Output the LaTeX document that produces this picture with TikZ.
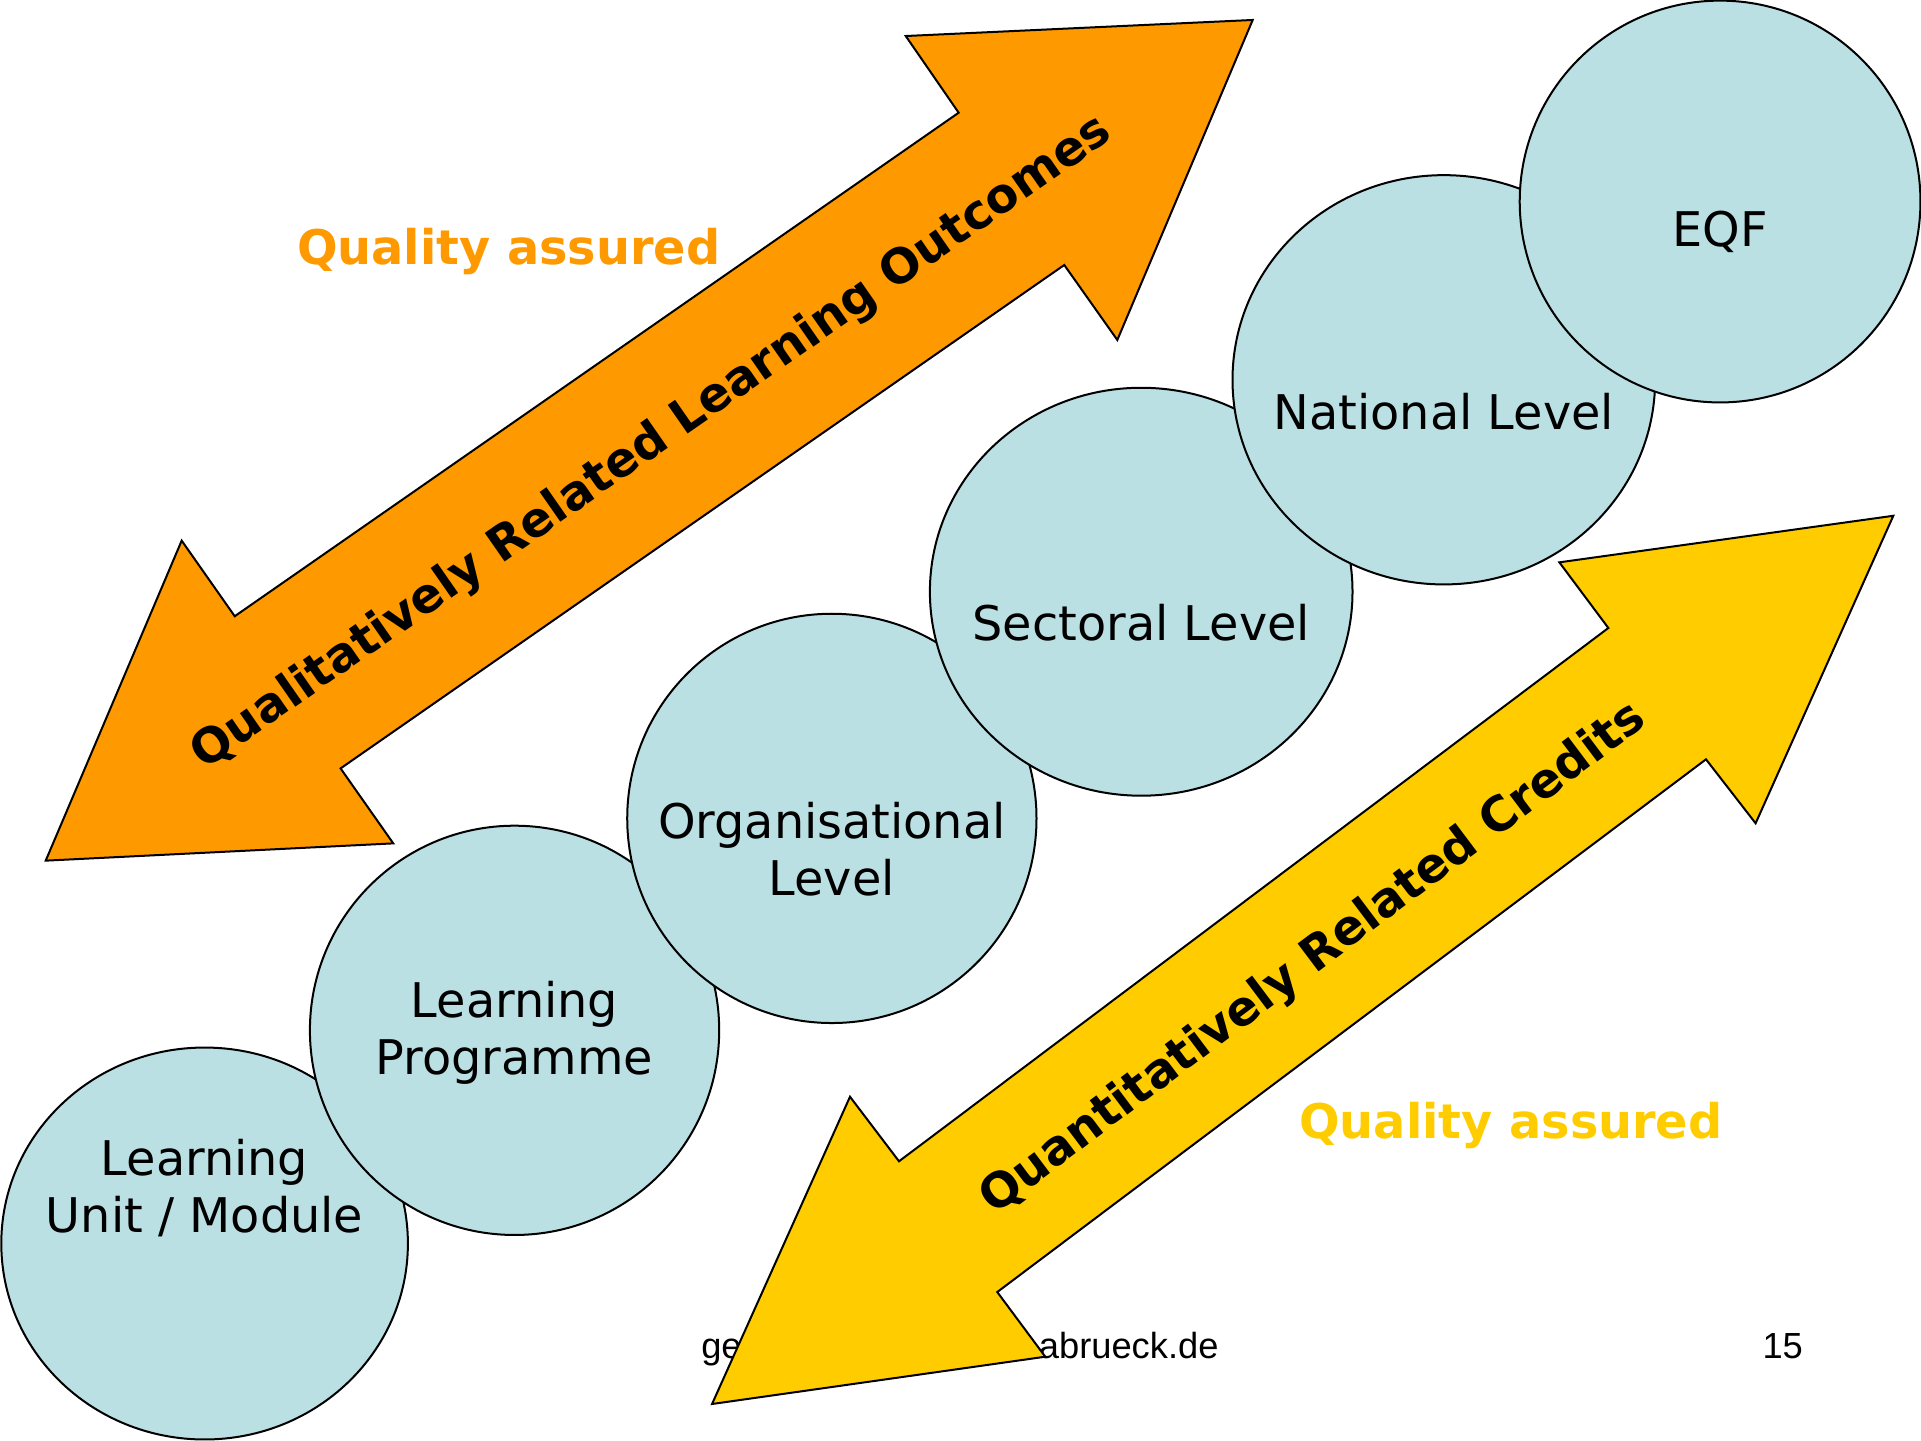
\documentclass[tikz,border=0pt]{standalone}
\usepackage{fontspec}
\setmainfont{DejaVu Sans}
\newfontfamily\footfont{Liberation Sans}
\usepackage{tikz}
\usetikzlibrary{shapes.geometric}
\definecolor{qorange}{HTML}{FF9900}
\definecolor{qyellow}{HTML}{FFCC00}
\definecolor{lvlblue}{HTML}{BBE0E3}
\newcommand\lvlfont{\fontsize{17.9}{21.4}\selectfont}
\newcommand\bandfont{\fontsize{17.9}{21.4}\selectfont\bfseries}
\tikzstyle{disc}=[ellipse,draw=black,line width=.75pt,fill=lvlblue,inner sep=0pt]
\tikzstyle{lvl}=[align=center,inner sep=0pt,font=\lvlfont]
\tikzstyle{band}=[draw=black,line width=.75pt,line join=miter]
\tikzstyle{bandtext}=[inner sep=0pt,font=\bandfont]
\tikzstyle{qa}=[inner sep=0pt,anchor=base west,font=\bandfont]
\tikzstyle{foot}=[inner sep=0pt,font=\footfont\fontsize{13.6}{16}\selectfont]

\begin{document}
\begin{tikzpicture}[x=0.45918pt,y=-0.45918pt]
	\useasboundingbox (0,0) rectangle (1568,1176);
	\fill[band,fill=qorange] (782.5,92) -- (739.3,29.4) -- (1022.5,16.3) -- (912,277.5) -- (868.7,216.3)
		-- (278,627.2) -- (321,688.4) -- (37.3,702.5) -- (148.3,441.3) -- (191.6,503) -- cycle;
	\node[bandtext,rotate=34.82] (qual) at (532,362) {Qualitatively Related Learning Outcomes};
	\node[qa,text=qorange] (qaup) at (242,216) {Quality assured};
	\node[qa,text=qyellow] (qadown) at (1060,929) {Quality assured};
	\node[disc,minimum width=152.4pt,minimum height=146.9pt] (lu) at (167,1015) {};
	\node[lvl] (lut) at (167,970) {Learning\\Unit / Module};
	\node[disc,minimum width=153.4pt,minimum height=153.4pt] (lp) at (420,841) {};
	\node[lvl] (lpt) at (420,843) {Learning\\Programme};
	\node[disc,minimum width=153.4pt,minimum height=153.4pt] (org) at (679,668) {};
	\node[lvl] (orgt) at (679,693) {Organisational\\Level};
	\node[disc,minimum width=158.4pt,minimum height=152.9pt] (sect) at (931.5,483) {};
	\node[lvl] (sectt) at (931.5,508) {Sectoral Level};
	\node[disc,minimum width=158.4pt,minimum height=153.4pt] (nat) at (1178.5,310) {};
	\node[lvl] (natt) at (1178.5,336) {National Level};
	\node[disc,minimum width=150.2pt,minimum height=150.6pt] (eqf) at (1404,164.5) {};
	\node[lvl] (eqft) at (1404,189) {EQF};
	\node[foot,anchor=base west] (footl) at (572,1109) {ge};
	\node[foot,anchor=base east] (footr) at (995,1109) {abrueck.de};
	\node[foot,anchor=base east] (page) at (1472,1109) {15};
	\fill[band,fill=qyellow] (1312.8,512.6) -- (1272.8,459) -- (1545.4,421) -- (1433,672) -- (1392.5,619.8)
		-- (814,1054.6) -- (853.2,1107.4) -- (581.2,1146) -- (693.8,895.2) -- (733.8,947.9) -- cycle;
	\node[bandtext,rotate=36.93] (quant) at (1072,783) {Quantitatively Related Credits};
\end{tikzpicture}
\end{document}
